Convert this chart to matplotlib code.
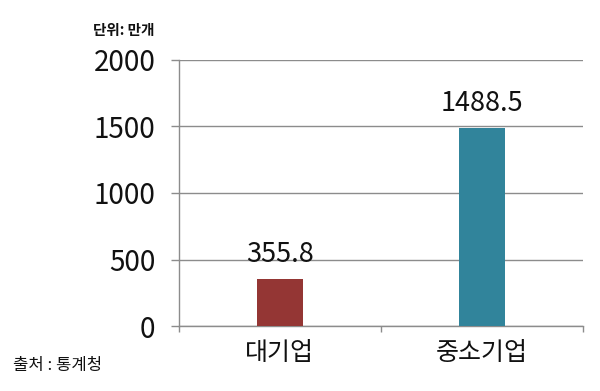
import matplotlib
matplotlib.use("Agg")
import matplotlib.pyplot as plt

plt.rcParams['font.family'] = ['Noto Sans CJK KR', 'DejaVu Sans']

categories = ['대기업', '중소기업']
values = [355.8, 1488.5]
colors = ['#943634', '#31849B']
yticks = [0, 500, 1000, 1500, 2000]

fig = plt.figure(figsize=(6.0, 3.91), dpi=100)
ax = fig.add_axes([0.298, 0.166, 0.674, 0.681])

x = list(range(len(categories)))
bars = ax.bar(x, values, width=0.23, color=colors, zorder=3)

ax.set_xlim(-0.5, len(categories) - 0.5)
ax.set_ylim(0, 2000)
ax.set_yticks(yticks)
ax.set_yticklabels([str(v) for v in yticks], fontsize=20, color='#111111',
                   fontweight='light')
ax.yaxis.grid(True, color='#8c8c8c', linewidth=1.0, zorder=0)

for s in ['top', 'right']:
    ax.spines[s].set_visible(False)
for s in ['left', 'bottom']:
    ax.spines[s].set_color('#8c8c8c')
    ax.spines[s].set_linewidth(1.0)

ax.tick_params(axis='y', length=5.8, width=1.0, color='#8c8c8c', pad=11)

# category boundaries as major ticks, labels as minor ticks
ax.set_xticks([-0.5, 0.5, 1.5])
ax.set_xticklabels(['', '', ''])
ax.tick_params(axis='x', which='major', length=4.5, width=1.0, color='#8c8c8c')
ax.set_xticks(x, minor=True)
ax.set_xticklabels(categories, minor=True, fontsize=18, color='#111111',
                   fontweight='light')
ax.tick_params(axis='x', which='minor', length=0, pad=10)

for xi, v in zip(x, values):
    ax.annotate(f'{v}', (xi, v), xytext=(0, 8), textcoords='offset points',
                ha='center', va='bottom', fontsize=19.5, color='#111111',
                fontweight='light')

fig.text(0.155, 0.922, '단위: 만개', fontsize=10.5, fontweight='bold',
         ha='left', va='center', color='#111111')
fig.text(0.022, 0.066, '출처 : 통계청', fontsize=12, ha='left', va='center',
         color='#111111')

fig.savefig('out.png', dpi=100)
